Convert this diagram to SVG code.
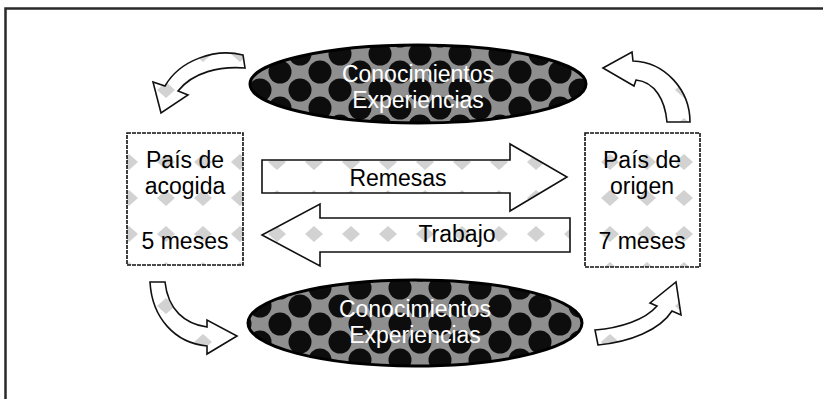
<svg xmlns="http://www.w3.org/2000/svg" width="823" height="399" viewBox="0 0 823 399">
<defs>
<pattern id="dark" patternUnits="userSpaceOnUse" x="0" y="0" width="40" height="36">
<rect width="40" height="36" fill="#8f8f8f"/>
<circle cx="0" cy="0" r="11.5" fill="#0d0d0d"/>
<circle cx="40" cy="0" r="11.5" fill="#0d0d0d"/>
<circle cx="0" cy="36" r="11.5" fill="#0d0d0d"/>
<circle cx="40" cy="36" r="11.5" fill="#0d0d0d"/>
<circle cx="20" cy="18" r="11.5" fill="#0d0d0d"/>
</pattern>
<pattern id="light" patternUnits="userSpaceOnUse" x="0" y="0" width="37" height="36">
<rect width="37" height="36" fill="#fff"/>
<path d="M18,10 L27,18 L18,26 L9,18 Z" fill="#d2d2d2"/>
</pattern>
<style>
.frame{fill:none;stroke:#2a2a2a;stroke-width:2.5}
.ell{fill:url(#dark);stroke:#000;stroke-width:3}
.box{fill:url(#light);stroke:#111;stroke-width:1.6;stroke-dasharray:4 1}
.arr{fill:url(#light);stroke:#111;stroke-width:1.6}
.w{font-family:"Liberation Sans",Arial,sans-serif;font-size:23px;fill:#fff;text-anchor:middle}
.k{font-family:"Liberation Sans",Arial,sans-serif;font-size:23px;fill:#000;text-anchor:middle}
</style>
</defs>
<rect width="823" height="399" fill="#fff"/>
<path class="frame" d="M5.5,399 V8.5 H823"/>
<g id="top-ellipse">
<ellipse class="ell" cx="418" cy="84" rx="168" ry="39"/>
<text class="w" x="418" y="82">Conocimientos</text>
<text class="w" x="418" y="108">Experiencias</text>
</g>
<g id="bottom-ellipse">
<ellipse class="ell" cx="415" cy="323" rx="167" ry="43"/>
<text class="w" x="415" y="317">Conocimientos</text>
<text class="w" x="415" y="343">Experiencias</text>
</g>
<g id="pais-acogida">
<rect class="box" x="127" y="133" width="116" height="132"/>
<text class="k" x="185" y="168">País de</text>
<text class="k" x="185" y="194">acogida</text>
<text class="k" x="185" y="249">5 meses</text>
</g>
<g id="pais-origen">
<rect class="box" x="585" y="133" width="115" height="134"/>
<text class="k" x="642" y="168">País de</text>
<text class="k" x="642" y="194">origen</text>
<text class="k" x="642" y="249">7 meses</text>
</g>
<g id="connectors">
<path class="arr" d="M262,160 L510,160 L510,144 L567,177 L510,211 L510,193 L262,193 Z"/>
<text class="k" x="398" y="186">Remesas</text>
<path class="arr" d="M570,218 L320,218 L320,204 L262,235 L320,266 L320,252 L570,252 Z"/>
<text class="k" x="457" y="242">Trabajo</text>
<path class="arr" d="M243,55 C215,48 180,60 165,86 L153,82 L161,113 L188,95 L178,91 C193,72 220,66 245,68 Z"/>
<path class="arr" d="M603,68 L632,52 L633,61 C665,62 690,90 690,122 L667,122 C665,100 655,82 636,80 L634,86 Z"/>
<path class="arr" d="M150,282 C152,318 175,343 207,346 L207,354 L237,336 L207,320 L207,327 C185,324 168,310 165,282 Z"/>
<path class="arr" d="M595,330 C620,328 645,320 657,306 L650,303 L676,282 L681,315 L672,311 C660,330 630,342 598,345 Z"/>
</g>
</svg>
